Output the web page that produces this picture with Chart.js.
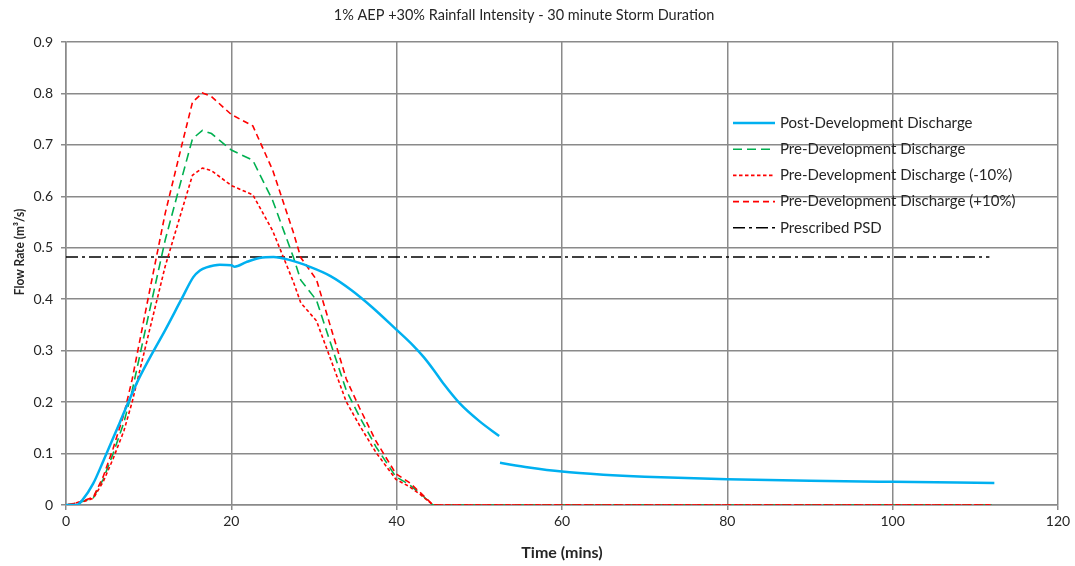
<!DOCTYPE html>
<html>
<head>
<meta charset="utf-8">
<script src="https://cdn.jsdelivr.net/npm/chart.js@4.4.1/dist/chart.umd.min.js"></script>
<style>
  html, body { margin: 0; padding: 0; background: #fff; }
  #wrap { width: 1075px; height: 566px; }
</style>
</head>
<body>
<div id="wrap"><canvas id="flowChart" width="1075" height="566"></canvas></div>
<script>
const chartTitle = '1% AEP +30% Rainfall Intensity - 30 minute Storm Duration'
const xTitle = 'Time (mins)'
const yTitle = 'Flow Rate (m³/s)'
const seriesLabels = [
  'Post-Development Discharge',
  'Pre-Development Discharge',
  'Pre-Development Discharge (-10%)',
  'Pre-Development Discharge (+10%)',
  'Prescribed PSD'
]

// post-development hydrograph (null = break in the line)
const postTime = [0, 1.3, 2, 3.3, 4.5, 6.5, 8.5, 10, 12, 14, 15.4, 16.2, 17, 18.6, 20, 20.4, 21.8, 23.4, 25.1, 27.1, 29.5, 32, 34.5, 37, 39.9, 42, 43.3, 44.5, 45.7, 47.6, 50, 52.4, 52.45, 52.5, 56, 60, 65, 70, 80, 90, 100, 112.3]
const postFlow = [0, 0, 0.01, 0.042, 0.085, 0.16, 0.235, 0.282, 0.34, 0.401, 0.443, 0.456, 0.462, 0.467, 0.466, 0.463, 0.472, 0.48, 0.482, 0.476, 0.463, 0.445, 0.418, 0.385, 0.342, 0.31, 0.287, 0.262, 0.235, 0.198, 0.163, 0.134, null, 0.082, 0.073, 0.065, 0.059, 0.055, 0.05, 0.047, 0.045, 0.043]

// pre-development hydrographs
const preTime = [0, 1, 2, 3.3, 4.5, 5.7, 7, 8, 10, 12, 14, 15.3, 16.5, 17.6, 20, 22.6, 25, 27.5, 28.4, 30.3, 32, 33.9, 35.5, 37.5, 39.9, 41.5, 42.8, 44.4, 112]
const preFlow = [0, 0.003, 0.007, 0.014, 0.05, 0.10, 0.16, 0.222, 0.37, 0.515, 0.635, 0.712, 0.728, 0.722, 0.69, 0.67, 0.592, 0.482, 0.437, 0.398, 0.315, 0.223, 0.172, 0.113, 0.055, 0.04, 0.023, 0, 0]
const preFlowMinus10 = [0, 0.003, 0.006, 0.013, 0.045, 0.09, 0.144, 0.2, 0.333, 0.464, 0.572, 0.641, 0.655, 0.65, 0.621, 0.603, 0.533, 0.434, 0.393, 0.358, 0.284, 0.201, 0.155, 0.102, 0.05, 0.036, 0.021, 0, 0]
const preFlowPlus10 = [0, 0.003, 0.008, 0.015, 0.055, 0.11, 0.176, 0.244, 0.407, 0.567, 0.699, 0.783, 0.801, 0.794, 0.759, 0.737, 0.651, 0.53, 0.481, 0.438, 0.347, 0.245, 0.189, 0.124, 0.061, 0.044, 0.025, 0, 0]

const psdTime = [0, 111.7]
const psdFlow = [0.482, 0.482]

const xTicks = [0, 20, 40, 60, 80, 100, 120]
const yTicks = [0, 0.1, 0.2, 0.3, 0.4, 0.5, 0.6, 0.7, 0.8, 0.9]

const FONT = 'Lato, "Open Sans", sans-serif'
const GRID = '#8a8a8a'
const TEXT = '#262626'

function toPoints (times, values) {
  return times.map((t, i) => ({ x: t, y: values[i] }))
}

// legend sits inside the plot, drawn by hand
const insideLegend = {
  id: 'insideLegend',
  afterDraw (chart) {
    const ctx = chart.ctx
    ctx.save()
    ctx.font = '15px ' + FONT
    ctx.textBaseline = 'middle'
    ctx.fillStyle = TEXT
    chart.data.datasets.forEach((ds, i) => {
      const y = 123 + i * 26.2
      ctx.beginPath()
      ctx.strokeStyle = ds.borderColor
      ctx.lineWidth = ds.borderWidth
      ctx.setLineDash(ds.borderDash || [])
      ctx.moveTo(733, y)
      ctx.lineTo(775, y)
      ctx.stroke()
      ctx.setLineDash([])
      ctx.fillText(ds.label, 780, y)
    })
    ctx.restore()
  }
}

// chart title and the rotated y title (original is squeezed along its length)
const extraText = {
  id: 'extraText',
  afterDraw (chart) {
    const ctx = chart.ctx
    ctx.save()
    ctx.font = '14.5px ' + FONT
    ctx.fillStyle = TEXT
    ctx.textAlign = 'center'
    ctx.textBaseline = 'middle'
    ctx.fillText(chartTitle, 524, 15)

    ctx.translate(19, 252)
    ctx.rotate(-Math.PI / 2)
    ctx.scale(0.85, 1)
    ctx.font = 'bold 14px ' + FONT
    ctx.fillText(yTitle, 0, 0)
    ctx.restore()
  }
}

const ctx = document.getElementById('flowChart').getContext('2d')
const myChart = new Chart(ctx, {
  type: 'line',
  data: {
    datasets: [
      {
        label: seriesLabels[0],
        data: toPoints(postTime, postFlow),
        borderColor: '#00b0f0',
        borderWidth: 2.5,
        cubicInterpolationMode: 'monotone',
        spanGaps: false,
        order: 0
      },
      {
        label: seriesLabels[1],
        data: toPoints(preTime, preFlow),
        borderColor: '#00b050',
        borderWidth: 1.6,
        borderDash: [9, 5],
        order: 2
      },
      {
        label: seriesLabels[2],
        data: toPoints(preTime, preFlowMinus10),
        borderColor: '#ff0000',
        borderWidth: 1.6,
        borderDash: [3.5, 2.5],
        order: 1
      },
      {
        label: seriesLabels[3],
        data: toPoints(preTime, preFlowPlus10),
        borderColor: '#ff0000',
        borderWidth: 1.6,
        borderDash: [6, 4],
        order: 1
      },
      {
        label: seriesLabels[4],
        data: toPoints(psdTime, psdFlow),
        borderColor: '#000000',
        borderWidth: 1.4,
        borderDash: [12, 4, 3, 4],
        order: 3
      }
    ]
  },
  options: {
    responsive: false,
    animation: false,
    elements: {
      point: { radius: 0, hoverRadius: 0 },
      line: { tension: 0, borderCapStyle: 'butt', fill: false }
    },
    layout: { padding: { top: 42, right: 17, left: 0, bottom: 0 } },
    scales: {
      x: {
        type: 'linear',
        min: 0,
        max: 120,
        afterBuildTicks: axis => { axis.ticks = xTicks.map(v => ({ value: v })) },
        afterFit: axis => { axis.height = 61 },
        grid: { color: GRID, lineWidth: 1.5, tickLength: 5 },
        border: { color: GRID, width: 1.5 },
        ticks: { font: { family: FONT, size: 14 }, color: TEXT, padding: 3 },
        title: {
          display: true,
          text: xTitle,
          font: { family: FONT, size: 16, weight: 'bold' },
          color: TEXT,
          padding: { top: 2 }
        }
      },
      y: {
        min: 0,
        max: 0.9,
        afterBuildTicks: axis => { axis.ticks = yTicks.map(v => ({ value: v })) },
        afterFit: axis => { axis.width = 66 },
        grid: { color: GRID, lineWidth: 1.5, tickLength: 5 },
        border: { color: GRID, width: 1.5 },
        ticks: {
          font: { family: FONT, size: 14 },
          color: TEXT,
          padding: 8,
          callback: v => (v === 0 ? '0' : v.toFixed(1))
        }
      }
    },
    plugins: {
      legend: { display: false },
      title: { display: false },
      tooltip: { enabled: false }
    }
  },
  plugins: [insideLegend, extraText]
})
</script>
</body>
</html>
